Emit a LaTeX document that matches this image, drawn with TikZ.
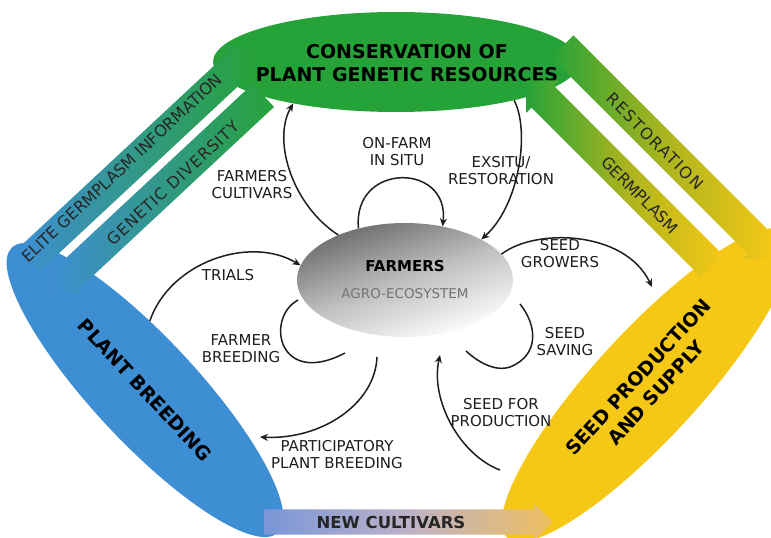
\documentclass[tikz,border=0pt]{standalone}
\usepackage{fontspec}
\setmainfont{DejaVu Sans}
\usepackage{xcolor}
\usepackage{tikz}
\usetikzlibrary{shapes.geometric, shapes.arrows, arrows.meta}

\definecolor{consgreen}{RGB}{38,163,56}
\definecolor{breedblue}{RGB}{62,142,212}
\definecolor{seedyellow}{RGB}{246,200,22}
\definecolor{bandolive}{RGB}{170,180,30}
\definecolor{cultblue}{RGB}{120,150,215}
\definecolor{culttan}{RGB}{238,190,95}
\definecolor{cultmid}{RGB}{190,178,200}
\definecolor{inkgray}{RGB}{30,30,30}

\begin{document}
\begin{tikzpicture}[
    x=1pt, y=-1pt,
    blob/.style={draw=none, ellipse, inner sep=0pt, align=center, font=\fontsize{19}{23}\selectfont\bfseries},
    band/.style={single arrow, draw=none, single arrow head extend=7pt, single arrow head indent=0pt, inner xsep=2pt, inner ysep=8pt, text height=11pt, text depth=4pt},
    bandtext/.style={inner sep=0pt, text=black!85, font=\fontsize{16}{16}\selectfont},
    lbl/.style={align=center, inner sep=0pt, text=inkgray, font=\fontsize{15}{17}\selectfont},
    arrow/.style={-{Stealth[length=8pt, width=7pt]}, line width=1.5pt, draw=inkgray},
    curve/.style={line width=1.5pt, draw=inkgray}
]
\path[use as bounding box, fill=white] (0,0) rectangle (771,538);
\clip (0,0) rectangle (771,538);

% the three sectors and the farmers in the middle
\node[blob, fill=consgreen, minimum width=366pt, minimum height=100pt] (cons) at (396,62) {};
\node[blob] (consTitle) at (407,63) {CONSERVATION OF\\PLANT GENETIC RESOURCES};
\node[blob, fill=breedblue, rotate=-47, minimum width=390pt, minimum height=104pt] (breed) at (145,390) {PLANT BREEDING};
\node[blob, fill=seedyellow, rotate=47.5, minimum width=414pt, minimum height=106pt, font=\fontsize{19}{24}\selectfont\bfseries] (seed) at (647,385) {SEED PRODUCTION\\AND SUPPLY};
\node[ellipse, inner sep=0pt, minimum width=216pt, minimum height=114pt, top color=black!58, bottom color=white, middle color=black!25, shading angle=20, align=center] (farmers) at (405,280) {{\fontsize{15}{18}\selectfont\bfseries FARMERS}\\[15pt]{\color{black!55}\fontsize{13.5}{16}\selectfont AGRO-ECOSYSTEM}};

% flows between the sectors
\node[band, rotate=43, minimum height=312pt, left color=breedblue, right color=consgreen] (elite) at (137,159) {};
\node[band, rotate=43, shape border rotate=180, minimum height=290pt, left color=breedblue, right color=consgreen] (genetic) at (163,189) {};
\node[band, rotate=-45, minimum height=300pt, left color=consgreen, right color=seedyellow, middle color=bandolive] (restor) at (663,147) {};
\node[band, rotate=-45, shape border rotate=180, minimum height=263pt, left color=consgreen, right color=seedyellow, middle color=bandolive] (germ) at (625,179) {};
\node[band, minimum height=289pt, inner ysep=5pt, single arrow head extend=6pt, left color=cultblue, right color=culttan, middle color=cultmid] (newcult) at (402,522) {};

\node[bandtext, rotate=43] (eliteText) at (122,168) {ELITE GERMPLASM INFORMATION};
\node[bandtext, rotate=43] (geneticText) at (173,183) {\addfontfeatures{LetterSpace=6}GENETIC DIVERSITY};
\node[bandtext, rotate=-45] (restorText) at (655,141) {\addfontfeatures{LetterSpace=10}RESTORATION};
\node[bandtext, rotate=-45] (germText) at (640,195) {GERMPLASM};
\node[bandtext, font=\fontsize{16.5}{16.5}\selectfont\bfseries] (newcultText) at (391,522) {NEW CULTIVARS};

\coordinate (growEnd) at (652,287);
\coordinate (saveStart) at (520,304);
\coordinate (saveEnd) at (466,351);
\coordinate (prodStart) at (500,470);
\coordinate (prodEnd) at (440,355);
\coordinate (ppbStart) at (377,357);
\coordinate (ppbEnd) at (260,437);
\coordinate (fbStart) at (298,300);
\coordinate (fbEnd) at (345,353);

\draw[arrow] (farmers.146) .. controls (292,205) and (272,140) .. (cons.202);
\draw[arrow] (farmers.132) .. controls (352,162) and (450,162) .. (farmers.55);
\draw[arrow] (cons.-18) .. controls (530,130) and (520,205) .. (farmers.28);
\draw[arrow] (farmers.15) .. controls (535,228) and (625,230) .. (growEnd);
\draw[curve] (saveStart) .. controls (537,325) and (540,355) .. (510,367) .. controls (495,372) and (478,362) .. (saveEnd);
\draw[arrow] (prodStart) .. controls (460,455) and (430,400) .. (prodEnd);
\draw[arrow] (ppbStart) .. controls (375,405) and (320,440) .. (ppbEnd);
\draw[curve] (fbStart) .. controls (265,318) and (278,388) .. (fbEnd);
\draw[arrow] (breed.133) .. controls (170,262) and (250,235) .. (farmers.172);

\node[lbl] (cultLbl) at (252,185) {FARMERS\\CULTIVARS};
\node[lbl] (insituLbl) at (397,152) {ON-FARM\\IN SITU};
\node[lbl] (exsituLbl) at (501,171) {EXSITU/\\RESTORATION};
\node[lbl] (trialsLbl) at (228,275) {TRIALS};
\node[lbl] (fbLbl) at (241,349) {FARMER\\BREEDING};
\node[lbl] (ppbLbl) at (337,455) {PARTICIPATORY\\PLANT BREEDING};
\node[lbl] (growLbl) at (560,254) {SEED\\GROWERS};
\node[lbl] (saveLbl) at (565,342) {SEED\\SAVING};
\node[lbl] (prodLbl) at (501,413) {SEED FOR\\PRODUCTION};

\end{tikzpicture}
\end{document}
